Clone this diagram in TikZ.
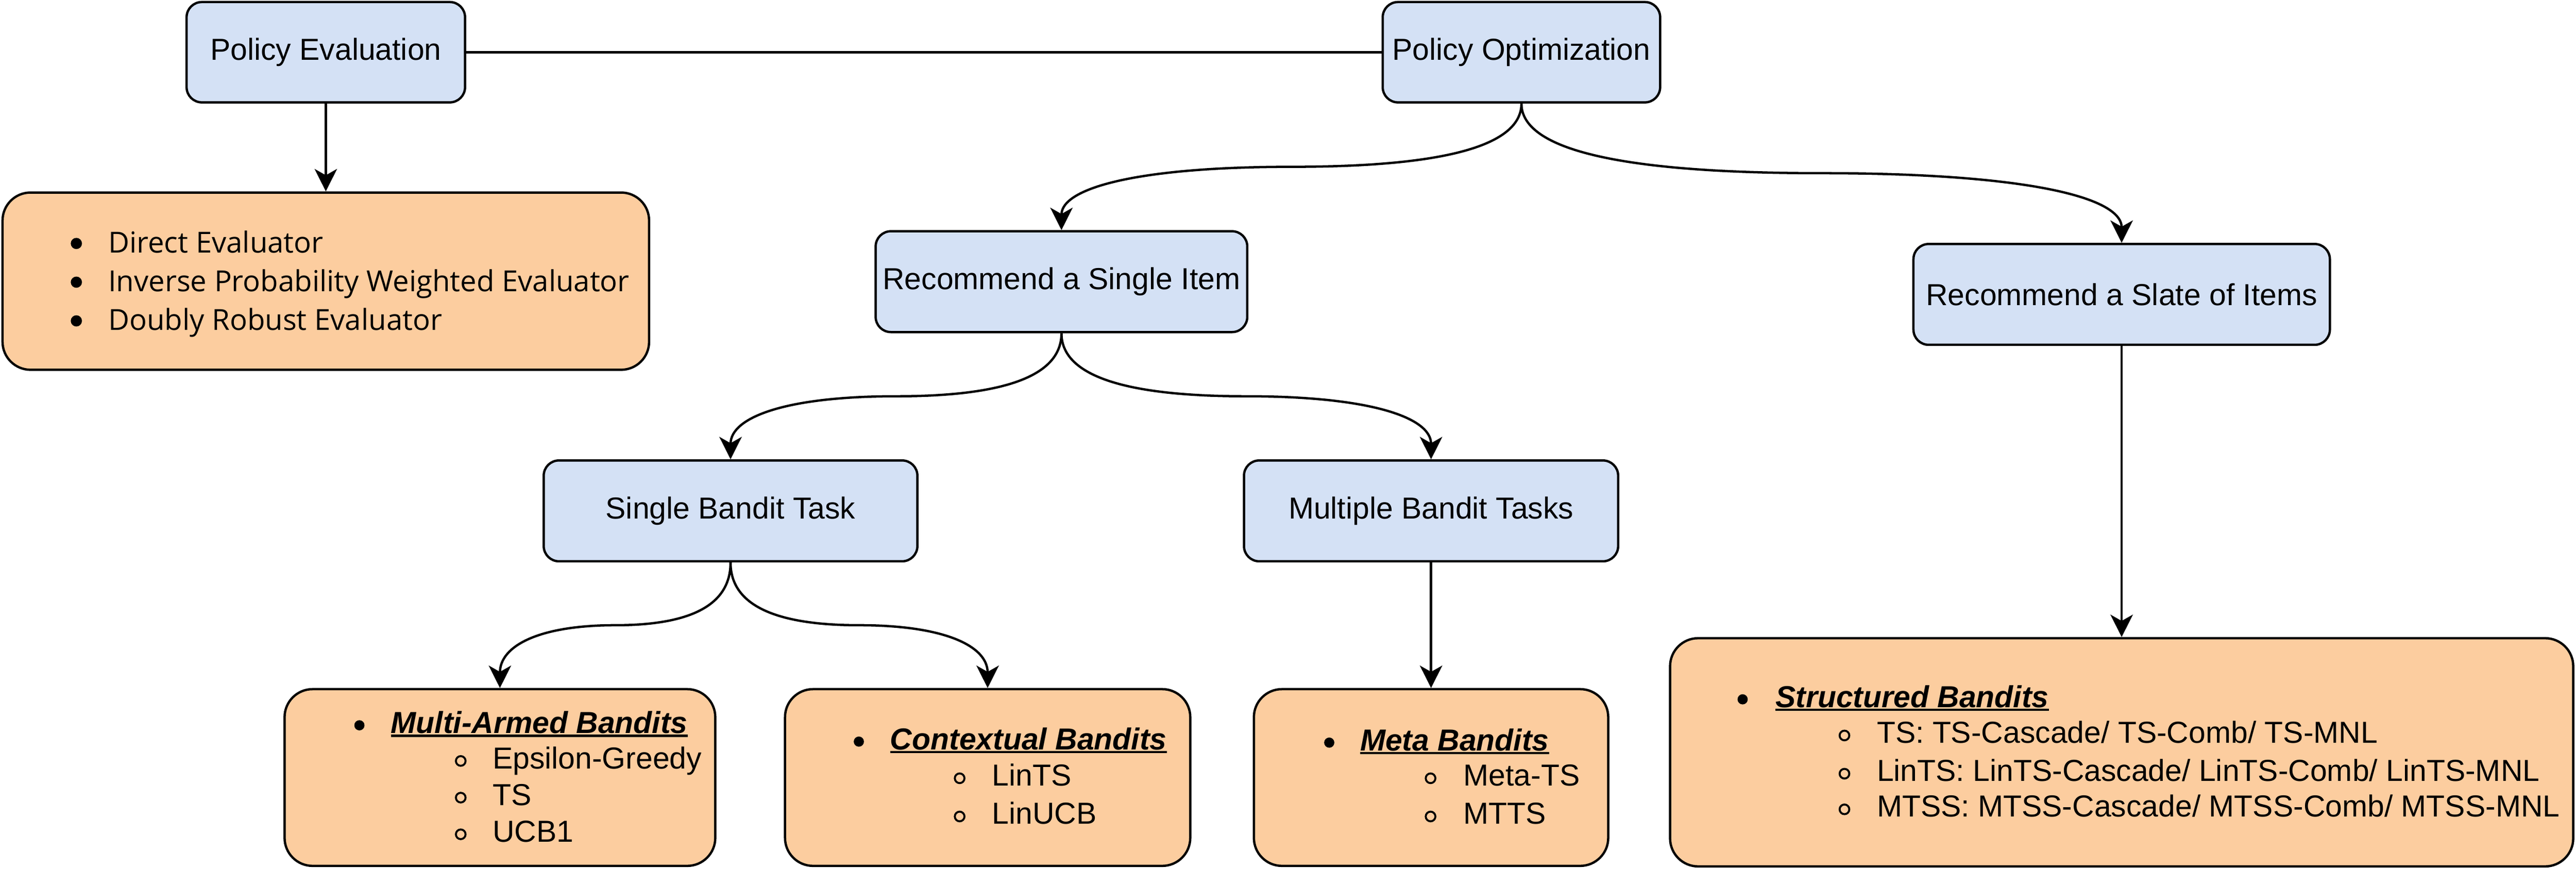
\documentclass[tikz,border=0pt]{standalone}
\usepackage{fontspec}
\setmainfont{Liberation Sans}
\newfontfamily\osans{Open Sans}
\usetikzlibrary{arrows.meta,calc}
\definecolor{boxblue}{RGB}{212,225,245}
\definecolor{boxorange}{RGB}{252,205,159}
\newcommand\mainfs{\fontsize{16.96pt}{20pt}\selectfont}
\newcommand\evalfs{\osans\fontsize{16.2pt}{20pt}\selectfont}
\newcommand\headul[1]{\setbox0=\hbox{\bfseries\itshape #1}\rlap{\rule[-0.07cm]{\wd0}{0.045cm}}\box0}
\newcommand\sconn[2]{\draw[conn] let \p1=(#1), \p2=(#2) in (\p1) .. controls (\x1,{\y1+(\y2-\y1)/3}) and ({(5*\x1+\x2)/6},{(\y1+\y2)/2}) .. ({(\x1+\x2)/2},{(\y1+\y2)/2}) .. controls ({(\x1+5*\x2)/6},{(\y1+\y2)/2}) and (\x2,{\y2-(\y2-\y1)/3}) .. (\p2);}
\tikzset{
 bluebox/.style={draw, line width=1.3pt, fill=boxblue, rounded corners=0.3cm, font=\mainfs, inner sep=0pt},
 orangebox/.style={draw, line width=1.3pt, fill=boxorange, rounded corners=0.55cm, inner sep=0pt},
 conn/.style={line width=1.3pt, -{Stealth[length=12.5pt,width=12.5pt,inset=3.5pt]}},
 plainline/.style={line width=1.4pt},
 itm/.style={anchor=base west, inner sep=0pt, font=\mainfs},
 disc/.style={circle, fill=black, minimum size=0.2cm, inner sep=0pt},
 ring/.style={circle, draw, line width=1.1pt, minimum size=0.19cm, inner sep=0pt},
}
\begin{document}
\begin{tikzpicture}
\useasboundingbox (0,0) rectangle (50.6,-17.35);
% blue boxes
\node[bluebox, minimum width=5.47cm, minimum height=1.97cm] (pe) at (6.40,-1.025) {Policy Evaluation};
\node[bluebox, minimum width=5.45cm, minimum height=1.97cm] (po) at (29.885,-1.025) {Policy Optimization};
\node[bluebox, minimum width=7.30cm, minimum height=1.98cm] (rsi) at (20.85,-5.53) {Recommend a Single Item};
\node[bluebox, minimum width=8.18cm, minimum height=1.98cm] (rsl) at (41.675,-5.78) {Recommend a Slate of Items};
\node[bluebox, minimum width=7.34cm, minimum height=1.98cm] (sbt) at (14.35,-10.03) {Single Bandit Task};
\node[bluebox, minimum width=7.35cm, minimum height=1.98cm] (mbt) at (28.11,-10.03) {Multiple Bandit Tasks};
% orange boxes
\node[orangebox, minimum width=12.70cm, minimum height=3.48cm] (ev) at (6.40,-5.52) {};
\node[orangebox, minimum width=8.46cm, minimum height=3.47cm] (mab) at (9.82,-15.265) {};
\node[orangebox, minimum width=7.96cm, minimum height=3.47cm] (cb) at (19.40,-15.265) {};
\node[orangebox, minimum width=6.96cm, minimum height=3.47cm] (meta) at (28.11,-15.265) {};
\node[orangebox, minimum width=17.74cm, minimum height=4.48cm] (sb) at (41.675,-14.77) {};
% connectors
\draw[plainline] (pe.east) -- (po.west);
\draw[conn] (pe.south) -- (ev.north);
\draw[conn] (mbt.south) -- (meta.north);
\draw[conn] (rsl.south) -- (sb.north);
\sconn{po.south}{rsi.north}
\sconn{po.south}{rsl.north}
\sconn{rsi.south}{sbt.north}
\sconn{rsi.south}{mbt.north}
\sconn{sbt.south}{mab.north}
\sconn{sbt.south}{cb.north}
% evaluation list
\node[disc, minimum size=0.22cm] (e1b) at (1.50,-4.78) {};
\node[itm, font=\evalfs] (e1) at (2.12,-4.96) {Direct Evaluator};
\node[disc, minimum size=0.22cm] (e2b) at (1.50,-5.54) {};
\node[itm, font=\evalfs] (e2) at (2.12,-5.72) {Inverse Probability Weighted Evaluator};
\node[disc, minimum size=0.22cm] (e3b) at (1.50,-6.30) {};
\node[itm, font=\evalfs] (e3) at (2.12,-6.48) {Doubly Robust Evaluator};
% multi-armed
\node[disc] (m0b) at (7.06,-14.24) {};
\node[itm] (m0) at (7.67,-14.40) {\headul{Multi-Armed Bandits}};
\node[ring] (m1b) at (9.05,-14.94) {};
\node[itm] (m1) at (9.67,-15.09) {Epsilon-Greedy};
\node[ring] (m2b) at (9.05,-15.66) {};
\node[itm] (m2) at (9.67,-15.81) {TS};
\node[ring] (m3b) at (9.05,-16.38) {};
\node[itm] (m3) at (9.67,-16.53) {UCB1};
% contextual
\node[disc] (c0b) at (16.87,-14.56) {};
\node[itm] (c0) at (17.48,-14.72) {\headul{Contextual Bandits}};
\node[ring] (c1b) at (18.85,-15.28) {};
\node[itm] (c1) at (19.48,-15.43) {LinTS};
\node[ring] (c2b) at (18.85,-16.03) {};
\node[itm] (c2) at (19.48,-16.18) {LinUCB};
% meta
\node[disc] (t0b) at (26.11,-14.58) {};
\node[itm] (t0) at (26.71,-14.74) {\headul{Meta Bandits}};
\node[ring] (t1b) at (28.10,-15.28) {};
\node[itm] (t1) at (28.74,-15.43) {Meta-TS};
\node[ring] (t2b) at (28.10,-16.03) {};
\node[itm] (t2) at (28.74,-16.18) {MTTS};
% structured
\node[disc] (s0b) at (34.23,-13.73) {};
\node[itm] (s0) at (34.87,-13.89) {\headul{Structured Bandits}};
\node[ring] (s1b) at (36.23,-14.44) {};
\node[itm] (s1) at (36.86,-14.59) {TS: TS-Cascade/ TS-Comb/ TS-MNL};
\node[ring] (s2b) at (36.23,-15.19) {};
\node[itm] (s2) at (36.86,-15.34) {LinTS: LinTS-Cascade/ LinTS-Comb/ LinTS-MNL};
\node[ring] (s3b) at (36.23,-15.89) {};
\node[itm] (s3) at (36.86,-16.04) {MTSS: MTSS-Cascade/ MTSS-Comb/ MTSS-MNL};
\end{tikzpicture}
\end{document}
